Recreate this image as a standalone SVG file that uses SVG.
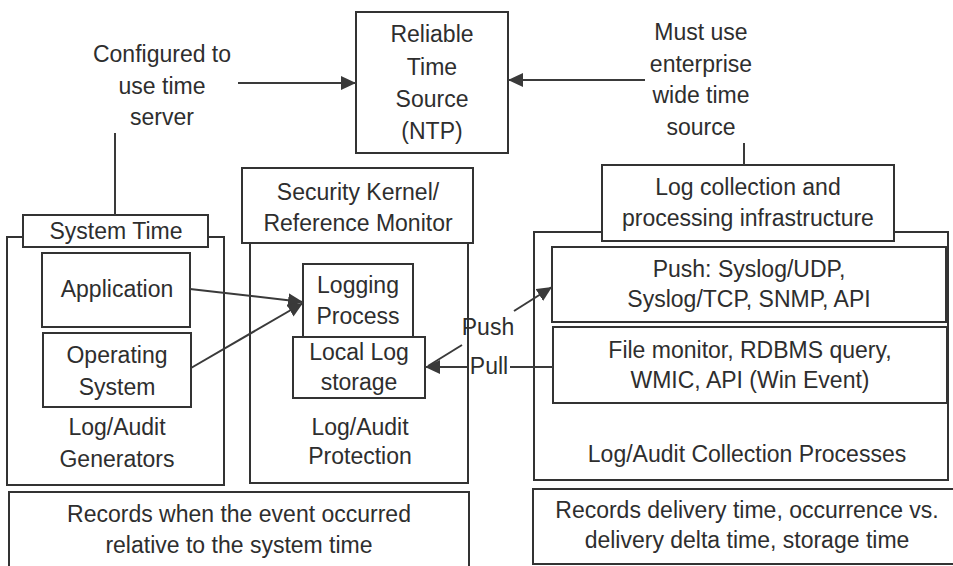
<svg xmlns="http://www.w3.org/2000/svg" width="953" height="566" viewBox="0 0 953 566">
<defs>
<marker id="arr" markerUnits="userSpaceOnUse" markerWidth="16" markerHeight="14" refX="15" refY="7" orient="auto">
<path d="M0,0 L15,7 L0,14 Z" fill="#3a3a3a"/>
</marker>
<style>
rect, .box { fill: #ffffff; stroke: #333333; stroke-width: 2; }
.open { fill: none; stroke: #333333; stroke-width: 2; }
.ln { fill: none; stroke: #3a3a3a; stroke-width: 2; }
text { font-family: "Liberation Sans", Arial, sans-serif; font-size: 23px; fill: #2e2e2e; text-anchor: middle; }
</style>
</defs>
<rect x="0" y="0" width="953" height="566" style="fill:#ffffff;stroke:none"/>

<g id="ntp">
<rect x="356" y="12" width="152" height="141"/>
<text x="432" y="42">Reliable</text>
<text x="432" y="75">Time</text>
<text x="432" y="107">Source</text>
<text x="432" y="139">(NTP)</text>
</g>

<g id="configured-label">
<text x="162" y="62">Configured to</text>
<text x="162" y="94">use time</text>
<text x="162" y="125">server</text>
</g>

<g id="must-use-label">
<text x="701" y="40">Must use</text>
<text x="701" y="72">enterprise</text>
<text x="701" y="103">wide time</text>
<text x="701" y="135">source</text>
</g>

<g id="generators">
<path class="open" d="M23,237 L7,237 L7,485 L224,485 L224,237 L208,237"/>
<text x="117" y="435">Log/Audit</text>
<text x="117" y="467">Generators</text>
</g>

<g id="system-time">
<rect x="23" y="215" width="185" height="32"/>
<text x="116" y="239">System Time</text>
</g>

<g id="application">
<rect x="42" y="253" width="148" height="74"/>
<text x="117" y="297">Application</text>
</g>

<g id="operating-system">
<rect x="43" y="333" width="148" height="74"/>
<text x="117" y="363">Operating</text>
<text x="117" y="395">System</text>
</g>

<g id="protection">
<rect x="250" y="243" width="218" height="240"/>
<text x="360" y="435">Log/Audit</text>
<text x="360" y="464">Protection</text>
</g>

<g id="security-kernel">
<rect x="242" y="168" width="231" height="75"/>
<text x="358" y="200">Security Kernel/</text>
<text x="358" y="231">Reference Monitor</text>
</g>

<g id="logging-process">
<rect x="303" y="264" width="110" height="74"/>
<text x="358" y="293">Logging</text>
<text x="358" y="324">Process</text>
</g>

<g id="local-log-storage">
<rect x="293" y="337" width="132" height="61"/>
<text x="359" y="360">Local Log</text>
<text x="359" y="390">storage</text>
</g>

<g id="collection-processes">
<path class="open" d="M602,232 L534,232 L534,480 L948,480 L948,232 L894,232"/>
<text x="747" y="462">Log/Audit Collection Processes</text>
</g>

<g id="log-collection-infra">
<rect x="602" y="165" width="292" height="76"/>
<text x="748" y="195">Log collection and</text>
<text x="748" y="226">processing infrastructure</text>
</g>

<g id="push-methods">
<rect x="552" y="247" width="394" height="75"/>
<text x="749" y="277">Push: Syslog/UDP,</text>
<text x="749" y="307">Syslog/TCP, SNMP, API</text>
</g>

<g id="pull-methods">
<rect x="553" y="327" width="394" height="76"/>
<text x="750" y="358">File monitor, RDBMS query,</text>
<text x="750" y="388">WMIC, API (Win Event)</text>
</g>

<g id="records-left">
<rect x="9" y="492" width="460" height="80"/>
<text x="239" y="522">Records when the event occurred</text>
<text x="239" y="553">relative to the system time</text>
</g>

<g id="records-right">
<rect x="533" y="489" width="425" height="75"/>
<text x="747" y="518">Records delivery time, occurrence vs.</text>
<text x="747" y="548">delivery delta time, storage time</text>
</g>

<g id="connectors">
<line class="ln" x1="238" y1="83" x2="356" y2="83" marker-end="url(#arr)"/>
<line class="ln" x1="645" y1="80" x2="508" y2="80" marker-end="url(#arr)"/>
<line class="ln" x1="115" y1="133" x2="115" y2="215"/>
<line class="ln" x1="744" y1="143" x2="744" y2="165"/>
<line class="ln" x1="190" y1="289" x2="303" y2="302" marker-end="url(#arr)"/>
<line class="ln" x1="191" y1="368" x2="303" y2="303" marker-end="url(#arr)"/>
<line class="ln" x1="428" y1="366" x2="462" y2="345"/>
<line class="ln" x1="514" y1="311" x2="552" y2="287" marker-end="url(#arr)"/>
<line class="ln" x1="553" y1="367" x2="510" y2="367"/>
<line class="ln" x1="467" y1="367" x2="425" y2="367" marker-end="url(#arr)"/>
<text x="488" y="335">Push</text>
<text x="489" y="374">Pull</text>
</g>
</svg>
